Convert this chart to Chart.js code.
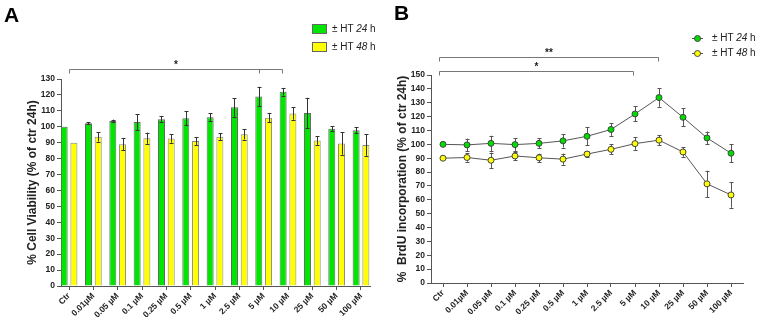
<!DOCTYPE html>
<html>
<head>
<meta charset="utf-8">
<script src="https://cdn.jsdelivr.net/npm/chart.js@4.4.1/dist/chart.umd.min.js"></script>
<style>
  body { margin: 0; background: #fff; font-family: "Liberation Sans", Arial, sans-serif; }
  #wrap { position: relative; width: 761px; height: 325px; overflow: hidden; }
  canvas { position: absolute; top: 0; }
  .panel { position: absolute; font-weight: bold; font-size: 21px; color: #000; }
  .leg { position: absolute; font-size: 10px; color: #222; white-space: nowrap; line-height: 12px; }
  .box { position: absolute; width: 13px; height: 8px; border: 1px solid #666; }
  .mk { position: absolute; width: 11px; height: 1px; background: #555; }
  .dot { position: absolute; width: 5px; height: 5px; border-radius: 50%; border: 1px solid #444; }
</style>
</head>
<body>
<div id="wrap">
  <canvas id="chartA" width="380" height="325" style="left:0"></canvas>
  <canvas id="chartB" width="381" height="325" style="left:380px"></canvas>

  <div class="panel" style="left:4px;top:3px">A</div>
  <div class="panel" style="left:394px;top:1px">B</div>

  <div class="box" style="left:312px;top:24px;background:#00e600"></div>
  <div class="leg" style="left:332px;top:23px">± HT <i>24</i> h</div>
  <div class="box" style="left:312px;top:42px;background:#ffff00"></div>
  <div class="leg" style="left:332px;top:41px">± HT <i>48</i> h</div>

  <div class="mk" style="left:692px;top:38px"></div>
  <div class="dot" style="left:694px;top:35px;background:#00dd00"></div>
  <div class="leg" style="left:712px;top:32px">± HT <i>24</i> h</div>
  <div class="mk" style="left:692px;top:53px"></div>
  <div class="dot" style="left:694px;top:50px;background:#ffff00"></div>
  <div class="leg" style="left:712px;top:47px">± HT <i>48</i> h</div>
</div>

<script>
// Data
const doses = ['Ctr', '0.01µM', '0.05 µM', '0.1 µM', '0.25 µM', '0.5 µM', '1 µM', '2.5 µM', '5 µM', '10 µM', '25 µM', '50 µM', '100 µM'];

// A - cell viability
const viab24 = [100, 102.2, 103.6, 103, 104.8, 105.3, 106, 112.2, 119, 122, 108.7, 98.8, 97.8];
const viab24Err = [0, 0.6, 0.9, 5, 1.8, 4.5, 2.6, 5.8, 6.1, 2.4, 9.5, 1.4, 2];
const viab48 = [90, 93.7, 89, 92.8, 92.7, 91, 93.7, 95.3, 105.7, 108.4, 91.4, 89.5, 88.6];
const viab48Err = [0, 3, 3.8, 3.5, 2.6, 2.4, 2.3, 3.3, 3, 4, 2.7, 7, 6.8];

// B - BrdU incorporation
const brdu24 = [100, 99.6, 100.7, 99.8, 100.7, 102.5, 105.8, 110.7, 121.9, 133.7, 119.5, 104.6, 93.6];
const brdu24Err = [0, 4.5, 5.5, 4.5, 3.6, 4.8, 6.6, 4.6, 5.4, 6.6, 6.6, 4.6, 6.6];
const brdu48 = [90, 90.5, 88.5, 91.6, 90.3, 89.3, 93, 96.4, 100.5, 103, 94.5, 71.5, 63.5];
const brdu48Err = [0, 3, 5.5, 3, 3, 4, 2, 3.5, 4.5, 3.5, 3.5, 9.5, 9.2];

// significance brackets (x in category units, y in value units)
const bracketsA = [{ from: 0, to: 8.77, mids: [7.82], y: 136.3, label: '*' }];
const bracketsB = [
  { from: -0.15, to: 8.95, mids: [], y: 163.2, label: '**' },
  { from: -0.15, to: 7.9, mids: [], y: 152.9, label: '*' }
];

const tickFont = { family: '"Liberation Sans", Arial', size: 8.5, weight: 'bold' };
const titleFont = { family: '"Liberation Sans", Arial', size: 12, weight: 'bold' };
const axisColor = '#555';

function errorBarPlugin(errs, color, hook) {
  const p = { id: 'errbars' + hook };
  p[hook] = function(chart) {
    const ctx = chart.ctx;
    const y = chart.scales.y;
    ctx.save();
    ctx.strokeStyle = color;
    ctx.lineWidth = 1;
    chart.data.datasets.forEach((ds, di) => {
      const meta = chart.getDatasetMeta(di);
      meta.data.forEach((el, i) => {
        const e = errs[di][i];
        if (!e) return;
        const v = typeof ds.data[i] === 'object' ? ds.data[i].y : ds.data[i];
        const x = Math.round(el.x) + 0.5;
        const yt = y.getPixelForValue(v + e);
        const yb = y.getPixelForValue(v - e);
        ctx.beginPath();
        ctx.moveTo(x, yt); ctx.lineTo(x, yb);
        ctx.moveTo(x - 2, Math.round(yt) + 0.5); ctx.lineTo(x + 2, Math.round(yt) + 0.5);
        ctx.moveTo(x - 2, Math.round(yb) + 0.5); ctx.lineTo(x + 2, Math.round(yb) + 0.5);
        ctx.stroke();
      });
    });
    ctx.restore();
  };
  return p;
}

function bracketPlugin(brackets) {
  return {
    id: 'brackets',
    afterDraw(chart) {
      const ctx = chart.ctx;
      const xs = chart.scales.x, ys = chart.scales.y;
      ctx.save();
      ctx.strokeStyle = '#777';
      ctx.lineWidth = 1;
      ctx.fillStyle = '#222';
      ctx.font = 'bold 10px "Liberation Sans", Arial';
      ctx.textAlign = 'center';
      brackets.forEach(b => {
        const y = Math.round(ys.getPixelForValue(b.y)) + 0.5;
        const x1 = Math.round(xs.getPixelForValue(b.from)) + 0.5;
        const x2 = Math.round(xs.getPixelForValue(b.to)) + 0.5;
        ctx.beginPath();
        ctx.moveTo(x1, y + 4); ctx.lineTo(x1, y); ctx.lineTo(x2, y); ctx.lineTo(x2, y + 4);
        b.mids.forEach(m => {
          const xm = Math.round(xs.getPixelForValue(m)) + 0.5;
          ctx.moveTo(xm, y); ctx.lineTo(xm, y + 4);
        });
        ctx.stroke();
        ctx.fillText(b.label, (x1 + x2) / 2, y - 2);
      });
      ctx.restore();
    }
  };
}

// Chart A
new Chart(document.getElementById('chartA'), {
  type: 'bar',
  data: {
    datasets: [
      { label: '± HT 24 h', data: viab24.map((v, i) => ({ x: i, y: v })), backgroundColor: '#00e600', borderColor: '#666', borderWidth: 1 },
      { label: '± HT 48 h', data: viab48.map((v, i) => ({ x: i, y: v })), backgroundColor: '#ffff00', borderColor: '#888', borderWidth: 1 }
    ]
  },
  options: {
    responsive: false,
    animation: false,
    categoryPercentage: 0.8,
    barPercentage: 0.72,
    layout: { padding: { left: 21, right: 10, top: 79, bottom: 0 } },
    plugins: { legend: { display: false }, tooltip: { enabled: false } },
    scales: {
      x: {
        type: 'linear', min: -0.33, max: 12.37, offset: false,
        afterBuildTicks: s => { s.ticks = doses.map((d, i) => ({ value: i })); },
        afterFit: s => { s.height = 39; },
        ticks: { callback: v => doses[v], minRotation: 45, maxRotation: 45, autoSkip: false, font: tickFont, color: '#222', padding: 1 },
        grid: { drawOnChartArea: false, offset: false, tickLength: 4, color: axisColor },
        border: { color: axisColor }
      },
      y: {
        min: 0, max: 130,
        afterFit: s => { s.width = 40; },
        ticks: { stepSize: 10, font: tickFont, color: '#222', padding: 2 },
        grid: { drawOnChartArea: false, tickLength: 4, color: axisColor },
        border: { color: axisColor },
        title: { display: true, text: '% Cell Viability (% of ctr 24h)', font: titleFont, color: '#222', padding: { top: 4, bottom: 2 } }
      }
    }
  },
  plugins: [errorBarPlugin([viab24Err, viab48Err], '#333', 'afterDatasetsDraw'), bracketPlugin(bracketsA)]
});

// Chart B
new Chart(document.getElementById('chartB'), {
  type: 'line',
  data: {
    labels: doses,
    datasets: [
      { label: '± HT 24 h', data: brdu24, borderColor: '#555', borderWidth: 1, pointRadius: 3, pointBackgroundColor: '#00dd00', pointBorderColor: '#444', pointBorderWidth: 1 },
      { label: '± HT 48 h', data: brdu48, borderColor: '#555', borderWidth: 1, pointRadius: 3, pointBackgroundColor: '#ffff00', pointBorderColor: '#444', pointBorderWidth: 1 }
    ]
  },
  options: {
    responsive: false,
    animation: false,
    layout: { padding: { left: 11, right: 18, top: 75, bottom: 0 } },
    plugins: { legend: { display: false }, tooltip: { enabled: false } },
    scales: {
      x: {
        offset: true,
        afterFit: s => { s.height = 42; },
        ticks: { minRotation: 45, maxRotation: 45, autoSkip: false, font: tickFont, color: '#222', padding: 1 },
        grid: { drawOnChartArea: false, offset: false, tickLength: 4, color: axisColor },
        border: { color: axisColor }
      },
      y: {
        min: 0, max: 150,
        afterFit: s => { s.width = 40; },
        ticks: { stepSize: 10, font: tickFont, color: '#222', padding: 2 },
        grid: { drawOnChartArea: false, tickLength: 4, color: axisColor },
        border: { color: axisColor },
        title: { display: true, text: '%  BrdU incorporation (% of ctr 24h)', font: titleFont, color: '#222', padding: { top: 4, bottom: 2 } }
      }
    }
  },
  plugins: [errorBarPlugin([brdu24Err, brdu48Err], '#555', 'beforeDatasetsDraw'), bracketPlugin(bracketsB)]
});
</script>
</body>
</html>
